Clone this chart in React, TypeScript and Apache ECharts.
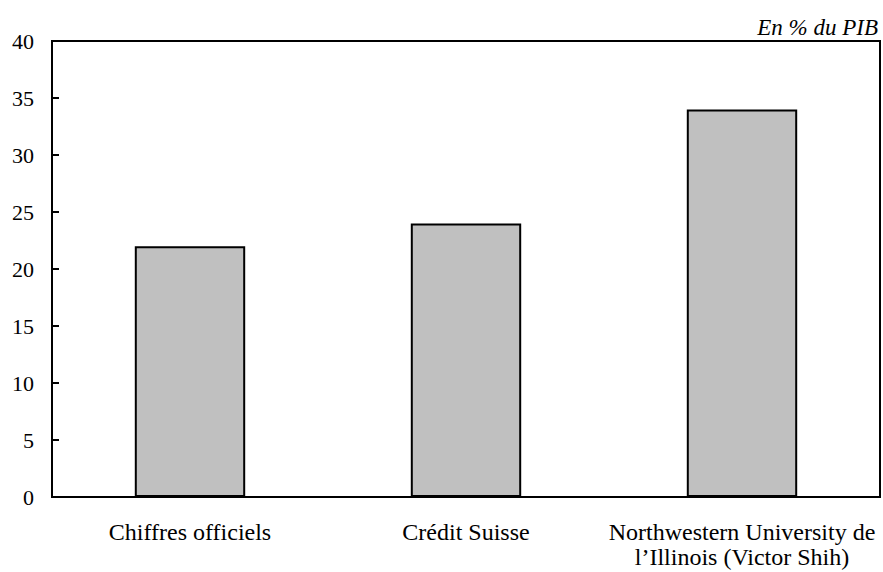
import React, { useEffect, useRef } from "react";
import * as echarts from "echarts";

const categories = [
  "Chiffres officiels",
  "Crédit Suisse",
  "Northwestern University de\nl’Illinois (Victor Shih)",
];
const values = [22, 24, 34];
const unitLabel = "En % du PIB";

export default function App() {
  const ref = useRef<HTMLDivElement>(null);
  useEffect(() => {
    const chart = echarts.init(ref.current!, null, { renderer: "svg" });
    const font = "Liberation Serif";
    chart.setOption({
      animation: false,
      backgroundColor: "#fff",
      textStyle: { fontFamily: font },
      title: {
        text: unitLabel,
        right: 0,
        top: 11,
        textStyle: { fontFamily: font, fontStyle: "italic", fontWeight: "normal", fontSize: 23, color: "#000" },
      },
      grid: {
        left: 52,
        right: 3,
        top: 41,
        bottom: 75,
        show: true,
        borderColor: "#000",
        borderWidth: 2,
        backgroundColor: "transparent",
      },
      xAxis: {
        type: "category",
        data: categories,
        axisLine: { lineStyle: { color: "#000", width: 2 } },
        axisTick: { show: false },
        axisLabel: { color: "#000", fontSize: 24, fontFamily: font, margin: 22, lineHeight: 25, interval: 0 },
      },
      yAxis: {
        type: "value",
        min: 0,
        max: 40,
        interval: 5,
        axisLine: { show: true, lineStyle: { color: "#000", width: 2 } },
        axisTick: { show: true, inside: true, length: 7, lineStyle: { color: "#000", width: 2 } },
        splitLine: { show: false },
        axisLabel: { color: "#000", fontSize: 22, fontFamily: font, margin: 18 },
      },
      series: [
        {
          type: "bar",
          data: values,
          barWidth: "40%",
          itemStyle: { color: "#C0C0C0", borderColor: "#000", borderWidth: 2 },
        },
      ],
    });
    return () => chart.dispose();
  }, []);
  return <div ref={ref} style={{ width: 883, height: 572, position: "absolute", left: 0, top: 0 }} />;
}
